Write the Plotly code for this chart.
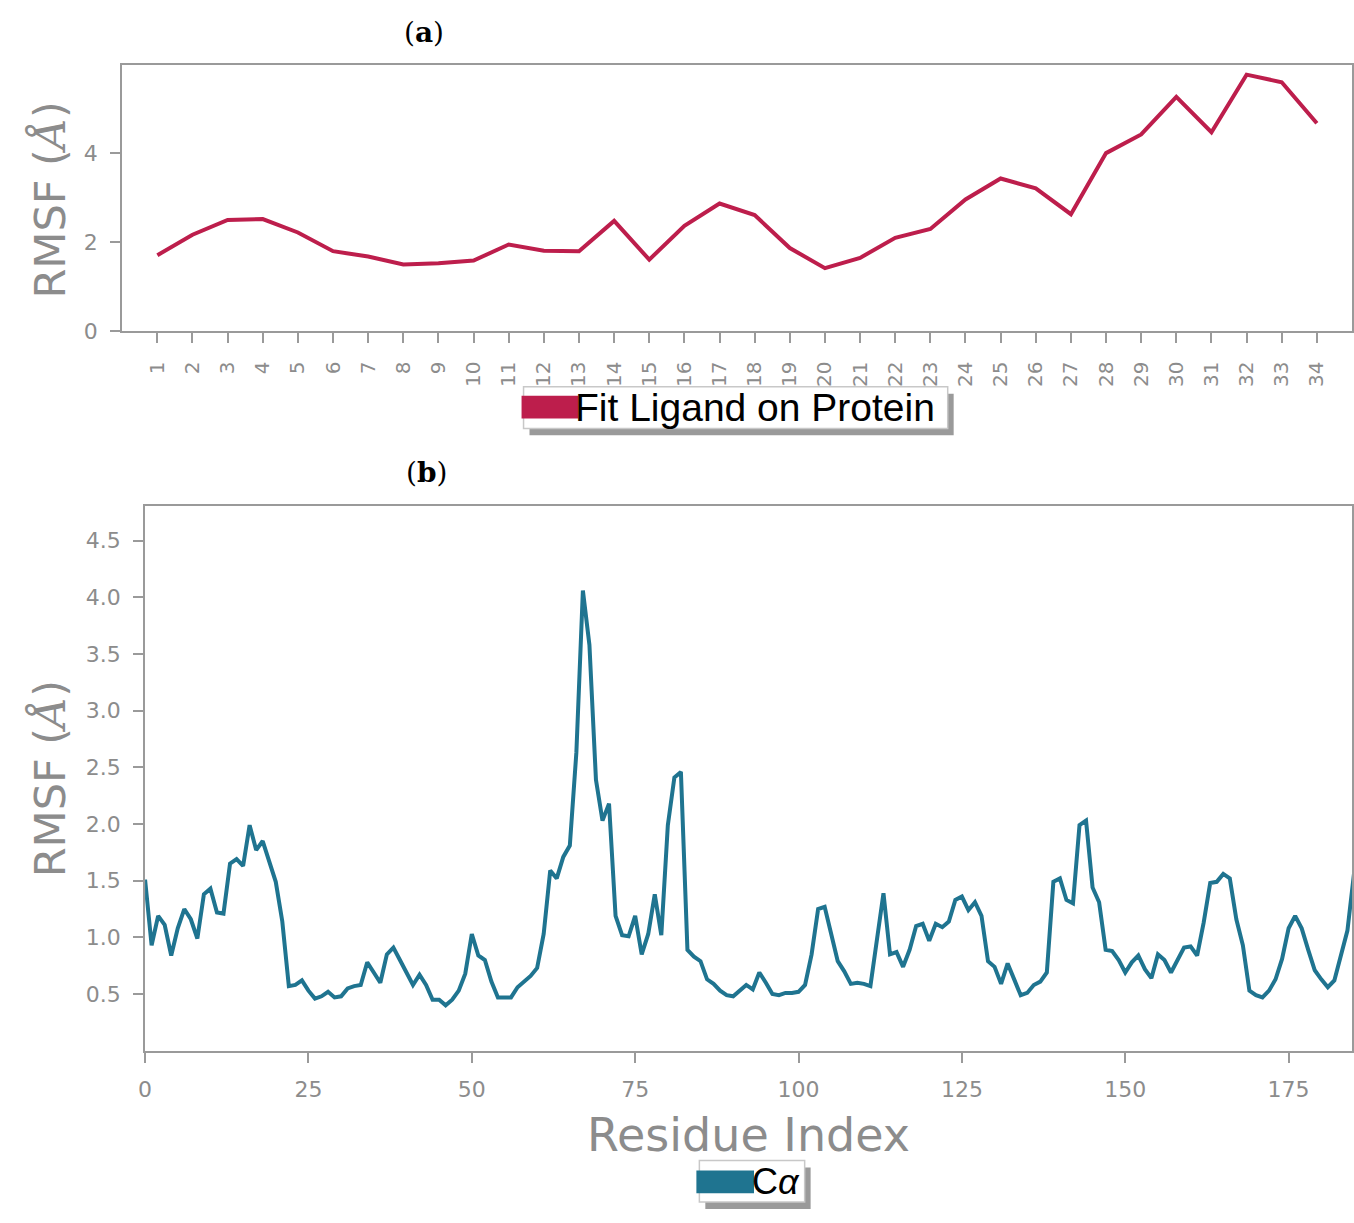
import plotly.graph_objects as go

W, H = 1354, 1223

# ---------------- data ----------------
lig_index = list(range(1, 35))
lig_rmsf = [1.71, 2.17, 2.50, 2.52, 2.22, 1.80, 1.68, 1.50, 1.53, 1.59,
            1.95, 1.81, 1.80, 2.48, 1.61, 2.37, 2.87, 2.61, 1.87, 1.42,
            1.65, 2.10, 2.30, 2.96, 3.43, 3.21, 2.63, 4.00, 4.42, 5.26,
            4.47, 5.76, 5.59, 4.67]

ca_rmsf = [1.51, 0.93, 1.19, 1.11, 0.84, 1.08, 1.25, 1.16, 0.99, 1.38,
           1.43, 1.22, 1.21, 1.65, 1.69, 1.63, 1.99, 1.77, 1.85, 1.68,
           1.49, 1.14, 0.57, 0.58, 0.62, 0.53, 0.46, 0.48, 0.52, 0.47,
           0.48, 0.55, 0.57, 0.58, 0.78, 0.69, 0.60, 0.85, 0.91, 0.80,
           0.69, 0.58, 0.67, 0.58, 0.45, 0.45, 0.40, 0.45, 0.53, 0.68,
           1.03, 0.84, 0.80, 0.61, 0.47, 0.47, 0.47, 0.56, 0.61, 0.66,
           0.73, 1.03, 1.59, 1.52, 1.71, 1.81, 2.63, 4.06, 3.58, 2.39,
           2.03, 2.18, 1.19, 1.02, 1.01, 1.19, 0.85, 1.03, 1.38, 1.02,
           1.99, 2.41, 2.46, 0.89, 0.83, 0.79, 0.63, 0.59, 0.53, 0.49,
           0.48, 0.53, 0.58, 0.54, 0.69, 0.60, 0.50, 0.49, 0.51, 0.51,
           0.52, 0.58, 0.85, 1.25, 1.27, 1.03, 0.79, 0.70, 0.59, 0.60,
           0.59, 0.57, 0.96, 1.39, 0.85, 0.87, 0.74, 0.89, 1.10, 1.12,
           0.97, 1.12, 1.09, 1.14, 1.33, 1.36, 1.24, 1.31, 1.19, 0.79,
           0.74, 0.59, 0.77, 0.63, 0.49, 0.51, 0.58, 0.61, 0.69, 1.49,
           1.52, 1.33, 1.30, 1.99, 2.03, 1.44, 1.31, 0.89, 0.88, 0.80,
           0.69, 0.78, 0.84, 0.72, 0.64, 0.85, 0.80, 0.69, 0.80, 0.91,
           0.92, 0.84, 1.13, 1.48, 1.49, 1.56, 1.52, 1.16, 0.93, 0.53,
           0.49, 0.47, 0.53, 0.63, 0.81, 1.08, 1.19, 1.08, 0.89, 0.71,
           0.63, 0.56, 0.62, 0.84, 1.06, 1.56]
ca_index = list(range(len(ca_rmsf)))

top_yticks = [0, 2, 4]
bot_yticks = [0.5, 1.0, 1.5, 2.0, 2.5, 3.0, 3.5, 4.0, 4.5]
bot_xticks = [0, 25, 50, 75, 100, 125, 150, 175]

RED = "#BD1E4C"
TEAL = "#1F7490"
GRAY = "#8c8c8c"
FRAME = "#9a9a9a"


def px(x):
    return x / W


def py(y):
    return 1 - y / H


fig = go.Figure()
fig.add_trace(go.Scatter(x=lig_index, y=lig_rmsf, mode="lines",
                         line=dict(color=RED, width=4), xaxis="x", yaxis="y",
                         showlegend=False))
fig.add_trace(go.Scatter(x=ca_index, y=ca_rmsf, mode="lines",
                         line=dict(color=TEAL, width=4), xaxis="x2", yaxis="y2",
                         showlegend=False))


def axis_common(size, standoff):
    return dict(showgrid=False, zeroline=False, showline=True, linecolor=FRAME,
                linewidth=2, mirror=True, ticks="outside", ticklen=10,
                tickwidth=2, tickcolor=FRAME,
                tickfont=dict(family="DejaVu Sans", size=size, color=GRAY),
                ticklabelstandoff=standoff)


fig.update_layout(
    width=W, height=H,
    margin=dict(l=0, r=0, t=0, b=0),
    paper_bgcolor="white", plot_bgcolor="white",
    showlegend=False,
    xaxis=dict(domain=[px(116), 1.0], range=[0, 35], tickmode="array",
               tickvals=lig_index, ticktext=[str(i) for i in lig_index],
               tickangle=-90, anchor="y", **axis_common(20, 10)),
    yaxis=dict(domain=[py(335), py(66)], range=[0, 5.97], tickmode="array",
               tickvals=top_yticks, anchor="x", **axis_common(22, 8)),
    xaxis2=dict(domain=[px(139), 1.0], range=[0, 184.7], tickmode="array",
                tickvals=bot_xticks, anchor="y2",
                title=dict(text="Residue Index", standoff=18,
                           font=dict(family="DejaVu Sans", size=46, color=GRAY)),
                **axis_common(22, 8)),
    yaxis2=dict(domain=[py(1062), py(511)], range=[0, 4.81], tickmode="array",
                tickvals=bot_yticks, ticktext=[f"{v:.1f}" for v in bot_yticks],
                anchor="x2", **axis_common(22, 8)),
)

# y-axis titles
ytitle = "RMSF (<span style='font-family:DejaVu Serif'><i>Å</i></span>)"
for yc in (202, 787):
    fig.add_annotation(x=px(43), y=py(yc), xref="paper", yref="paper",
                       text=ytitle, textangle=-90, showarrow=False,
                       font=dict(family="DejaVu Sans", size=43, color=GRAY),
                       xanchor="center", yanchor="middle")

# panel labels
for label, xc, yc in (("a", 420, 33), ("b", 422, 478)):
    fig.add_annotation(x=px(xc), y=py(yc), xref="paper", yref="paper",
                       text=f"(<b>{label}</b>)", showarrow=False,
                       font=dict(family="DejaVu Serif", size=28, color="black"),
                       xanchor="center", yanchor="middle")


# legends (drawn as boxes + real text)
def legend_box(x0, y0, x1, y1, px0, py0, px1, py1, color, text, tx, size):
    fig.add_shape(type="rect", xref="paper", yref="paper",
                  x0=px(x0 + 6), x1=px(x1 + 6), y0=py(y0 + 7), y1=py(y1 + 7),
                  fillcolor="#9a9a9a", line=dict(width=0), layer="above")
    fig.add_shape(type="rect", xref="paper", yref="paper",
                  x0=px(x0), x1=px(x1), y0=py(y0), y1=py(y1),
                  fillcolor="white", line=dict(color="#c8c8c8", width=1.5),
                  layer="above")
    fig.add_shape(type="rect", xref="paper", yref="paper",
                  x0=px(px0), x1=px(px1), y0=py(py0), y1=py(py1),
                  fillcolor=color, line=dict(width=0), layer="above")
    fig.add_annotation(x=px(tx), y=py((py0 + py1) / 2), xref="paper", yref="paper",
                       text=text, showarrow=False, xanchor="left", yanchor="middle",
                       font=dict(family="Liberation Sans", size=size, color="black"))


legend_box(520, 391, 947, 433, 518, 400, 575, 423, RED, "Fit Ligand on Protein", 570, 39)
legend_box(697, 1173, 803, 1215, 694, 1183, 752, 1206, TEAL, "C<i>α</i>", 748, 36)

fig.write_html("out.html")
